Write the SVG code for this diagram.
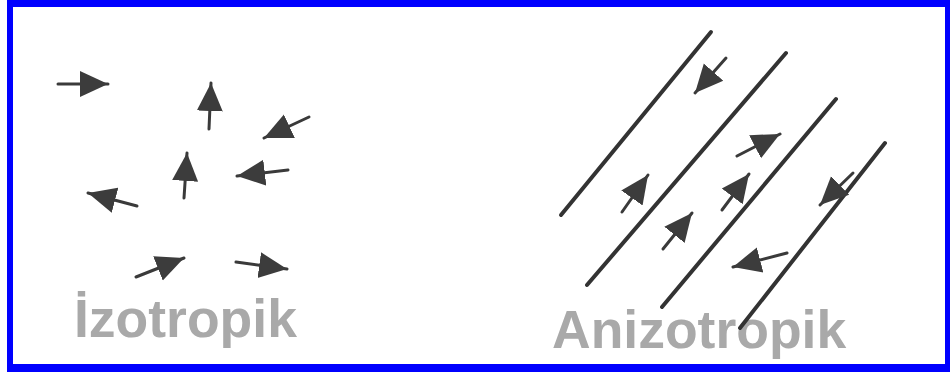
<svg xmlns="http://www.w3.org/2000/svg" width="950" height="372" viewBox="0 0 950 372">
<style>
.sh{stroke:#3a3a3a;stroke-width:3;stroke-linecap:round;fill:none;marker-end:url(#hd)}
.ln{stroke:#333;stroke-width:4;stroke-linecap:round}
.lbl{font-family:"Liberation Sans",Arial,sans-serif;font-weight:bold;font-size:53.5px;fill:#a9a9a9}
</style>
<defs>
<marker id="hd" markerUnits="userSpaceOnUse" markerWidth="30" markerHeight="28" viewBox="0 0 30 28" refX="28" refY="14" orient="auto">
<path d="M0,1 L28,14 L0,27 Z" fill="#3c3c3c"/>
</marker>
</defs>
<rect x="0" y="0" width="950" height="372" fill="#fff"/>
<g id="border" fill="#0000ff">
<rect x="7" y="0" width="943" height="7"/>
<rect x="7" y="0" width="6" height="372"/>
<rect x="945" y="0" width="5" height="372"/>
<rect x="7" y="364" width="943" height="8"/>
</g>
<g id="labels">
<text class="lbl" x="74" y="337">İzotropik</text>
<text class="lbl" x="552" y="348">Anizotropik</text>
</g>
<g id="isotropic">
<line class="sh" x1="58" y1="84" x2="108" y2="84"/>
<line class="sh" x1="209" y1="129" x2="211" y2="83"/>
<line class="sh" x1="309" y1="117" x2="264" y2="138"/>
<line class="sh" x1="184" y1="198" x2="187" y2="153"/>
<line class="sh" x1="288" y1="170" x2="237" y2="176"/>
<line class="sh" x1="137" y1="206" x2="88" y2="193"/>
<line class="sh" x1="136" y1="277" x2="184" y2="258"/>
<line class="sh" x1="236" y1="262" x2="287" y2="269"/>
</g>
<g id="anisotropic-lines">
<line class="ln" x1="711" y1="32" x2="561" y2="215"/>
<line class="ln" x1="786" y1="53" x2="587" y2="285"/>
<line class="ln" x1="836" y1="99" x2="662" y2="307"/>
<line class="ln" x1="885" y1="143" x2="740" y2="328"/>
</g>
<g id="anisotropic-arrows">
<line class="sh" x1="726" y1="58" x2="695" y2="93"/>
<line class="sh" x1="737" y1="156" x2="780" y2="134"/>
<line class="sh" x1="622" y1="212" x2="648" y2="175"/>
<line class="sh" x1="722" y1="210" x2="749" y2="174"/>
<line class="sh" x1="663" y1="249" x2="692" y2="213"/>
<line class="sh" x1="787" y1="253" x2="733" y2="267"/>
<line class="sh" x1="853" y1="173" x2="820" y2="205"/>
</g>
</svg>
